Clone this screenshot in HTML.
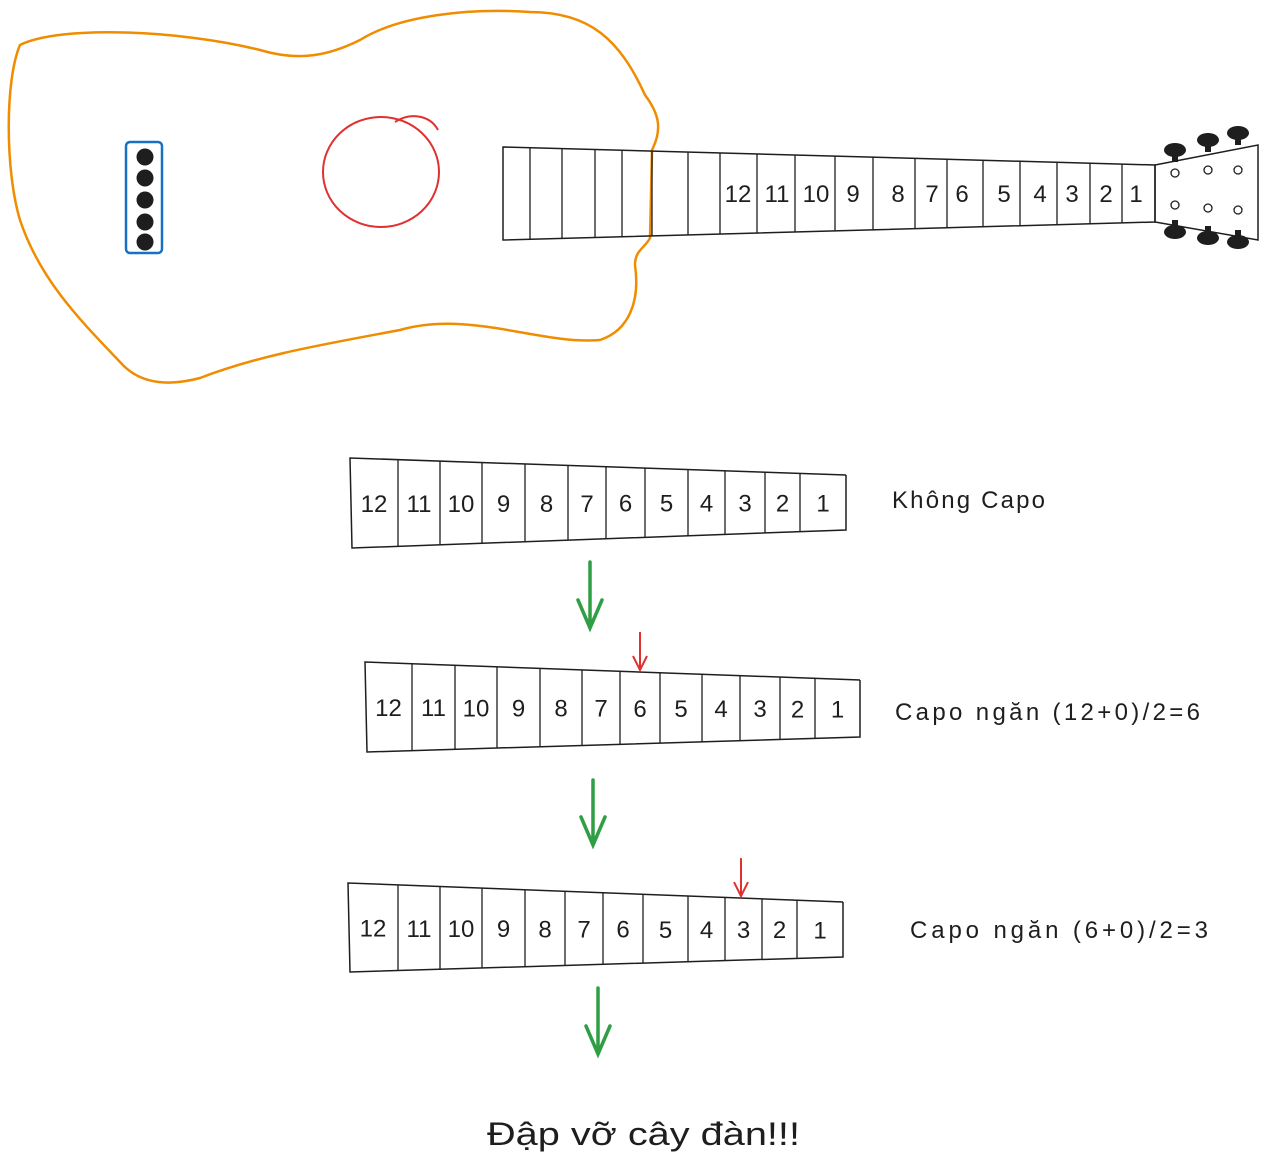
<!DOCTYPE html>
<html><head><meta charset="utf-8"><style>
html,body{margin:0;padding:0;background:#fff;}
svg{display:block;}
text{font-family:"Liberation Sans","DejaVu Sans",sans-serif;fill:#1e1e1e;}
</style></head><body>
<svg id="s" width="1275" height="1167" viewBox="0 0 1275 1167">
<path fill="none" stroke="#f08c00" stroke-width="2.5"
 d="M20,45 C60,25 180,30 260,50 C300,62 330,55 360,40 C400,15 470,8 530,12 C590,12 620,40 645,95 C660,115 662,130 652,150 L650,238 C645,248 635,250 635,265 C640,300 630,330 600,340 C540,345 470,310 400,330 C320,345 260,355 200,378 C170,386 140,385 120,362 C80,320 40,280 20,220 C5,170 5,80 20,45 Z"/>
<ellipse cx="381" cy="172" rx="58" ry="55" fill="none" stroke="#e03131" stroke-width="2"/>
<path d="M395,122 C410,112 430,115 438,130" fill="none" stroke="#e03131" stroke-width="2"/>
<rect x="126" y="142" width="36" height="111" rx="4" fill="none" stroke="#1971c2" stroke-width="2.5"/>
<g id="pins"></g>
<polygon points="503,147 1155,165 1155,222 503,240" fill="none" stroke="#1e1e1e" stroke-width="1.5"/>
<g id="neckfrets"></g>
<polygon points="1155,165 1258,145 1258,240 1155,222" fill="none" stroke="#1e1e1e" stroke-width="1.5"/>
<g id="tuners"></g>
<g id="boards"></g>
<text x="487" y="1145" font-size="32" textLength="313" lengthAdjust="spacingAndGlyphs">Đập vỡ cây đàn!!!</text>
</svg>
<script>
const ns="http://www.w3.org/2000/svg";
const svg=document.getElementById('s');
function mk(tag,attrs,parent){const e=document.createElementNS(ns,tag);for(const k in attrs)e.setAttribute(k,attrs[k]);(parent||svg).appendChild(e);return e;}
const labels=["12","11","10","9","8","7","6","5","4","3","2","1"];
const pinY=[157,178,200,222,242];
const pins=document.getElementById('pins');
pinY.forEach(y=>{const c=mk('circle',{cx:145,cy:y,r:8.5,fill:'#1e1e1e'},pins);

});
const neckFrets=[530,562,595,622,652,688,720,757,795,835,873,915,947,983,1020,1057,1090,1122];
const neckNumX=[738,777,816,853,898,932,962,1004,1040,1072,1106,1136];
const nf=document.getElementById('neckfrets');
function neckY(x,top){return top?147+(x-503)*18/652:240-(x-503)*18/652;}
neckFrets.forEach(x=>{const l=mk('line',{x1:x,y1:neckY(x,true),x2:x,y2:neckY(x,false),stroke:'#1e1e1e','stroke-width':1.3},nf);

});
labels.forEach((t,i)=>{const e=mk('text',{x:neckNumX[i],y:202,'font-size':24,'text-anchor':'middle'},nf);e.textContent=t;

});
const tx=[1175,1208,1238],tyTop=[173,170,170],tyBot=[205,208,210],pegTop=[150,140,133],pegBot=[232,238,242];
const tg=document.getElementById('tuners');
tx.forEach((x,i)=>{
 [tyTop[i],tyBot[i]].forEach(y=>{const c=mk('circle',{cx:x,cy:y,r:4,fill:'none',stroke:'#1e1e1e','stroke-width':1.3},tg);
 
 });
 [pegTop[i],pegBot[i]].forEach(y=>{const g=mk('g',{},tg);
 
 
 mk('ellipse',{cx:x,cy:y,rx:11,ry:7,fill:'#1e1e1e'},g);
 mk('rect',{x:x-3,y:y<190?y:y-12,width:6,height:12,fill:'#1e1e1e'},g);});
});
const boards=[
 {top:[350,458,846,475],bot:[352,548,846,530],frets:[398,440,482,525,568,606,645,688,725,765,800],caption:"Không Capo",cx:892,cy:508,cw:153,capo:null},
 {top:[365,662,860,680],bot:[367,752,860,737],frets:[412,455,497,540,582,620,660,702,740,780,815],caption:"Capo ngăn (12+0)/2=6",cx:895,cy:720,cw:305,capo:640},
 {top:[348,883,843,902],bot:[350,972,843,957],frets:[398,440,482,525,565,603,643,688,725,762,797],caption:"Capo ngăn (6+0)/2=3",cx:910,cy:938,cw:298,capo:741}
];
const greenArrows=[[590,562,628],[593,780,845],[598,988,1054]];
const bg=document.getElementById('boards');
boards.forEach((b,bi)=>{
 const g=mk('g',{},bg);
 
 
 const [x1,y1,x2,y2]=b.top,[bx1,by1,bx2,by2]=b.bot;
 mk('polyline',{points:`${x2},${y2} ${x1},${y1} ${bx1},${by1} ${bx2},${by2} ${x2},${y2}`,fill:'none',stroke:'#1e1e1e','stroke-width':1.5},g);
 const ty=x=>y1+(x-x1)*(y2-y1)/(x2-x1),byf=x=>by1+(x-bx1)*(by2-by1)/(bx2-bx1);
 const edges=[x1].concat(b.frets,[x2]);
 b.frets.forEach(x=>{const l=mk('line',{x1:x,y1:ty(x),x2:x,y2:byf(x),stroke:'#1e1e1e','stroke-width':1.3},g);
 
 });
 labels.forEach((t,i)=>{const cx=(edges[i]+edges[i+1])/2;const cy=(ty(cx)+byf(cx))/2+9;
 const e=mk('text',{x:cx,y:cy,'font-size':24,'text-anchor':'middle'},g);e.textContent=t;
 
 });
 const c=mk('text',{x:b.cx,y:b.cy,'font-size':24,textLength:b.cw,lengthAdjust:'spacing'},bg);c.textContent=b.caption;
 
 
 if(b.capo){const yT=ty(b.capo);const a=mk('g',{stroke:'#e03131','stroke-width':2,fill:'none'},bg);
 
 
 mk('path',{d:`M${b.capo},${yT-40} L${b.capo},${yT-2} M${b.capo-7},${yT-16} L${b.capo},${yT-2} L${b.capo+7},${yT-16}`},a);}
});
greenArrows.forEach(([x,ya,yb])=>{const a=mk('path',{d:`M${x},${ya} L${x},${yb} M${x-12},${yb-28} L${x},${yb} L${x+12},${yb-28}`,stroke:'#2f9e44','stroke-width':3.5,fill:'none','stroke-linecap':'round'},bg);

});
</script>
</body></html>
